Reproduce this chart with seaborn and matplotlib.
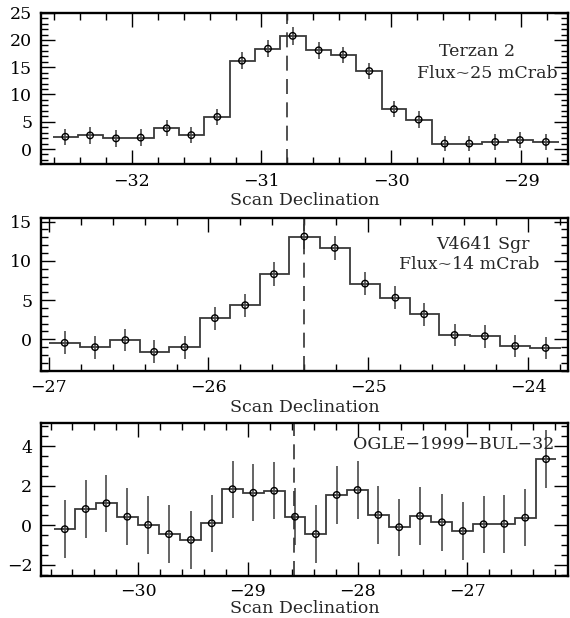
import numpy as np
import matplotlib
matplotlib.use("Agg")
import matplotlib.pyplot as plt
from matplotlib.ticker import MultipleLocator
import seaborn as sns

sns.set_theme(style="ticks")
plt.rcParams['font.family'] = ['DejaVu Serif']
plt.rcParams['axes.unicode_minus'] = True

# Panel 1: Terzan 2
terzan_dec = [-32.51, -32.32, -32.12, -31.93, -31.73, -31.54, -31.34, -31.15, -30.95, -30.76,
              -30.56, -30.37, -30.17, -29.98, -29.79, -29.59, -29.40, -29.20, -29.01, -28.81]
terzan_flux = [2.25, 2.5, 1.95, 2.1, 3.8, 2.55, 5.9, 16.2, 18.4, 20.75,
               18.1, 17.3, 14.3, 7.3, 5.4, 1.0, 1.0, 1.3, 1.65, 1.3]
terzan_err = [1.45, 1.5, 1.5, 1.5, 1.5, 1.45, 1.5, 1.55, 1.55, 1.6,
              1.5, 1.5, 1.5, 1.5, 1.5, 1.45, 1.45, 1.45, 1.5, 1.45]

# Panel 2: V4641 Sgr
v4641_dec = [-26.90, -26.71, -26.52, -26.34, -26.15, -25.96, -25.77, -25.59, -25.40,
             -25.21, -25.02, -24.83, -24.65, -24.46, -24.27, -24.08, -23.89]
v4641_flux = [-0.45, -1.0, -0.1, -1.6, -1.0, 2.7, 4.35, 8.3, 13.1,
              11.65, 7.1, 5.3, 3.2, 0.55, 0.4, -0.85, -1.1]
v4641_err = [1.45, 1.45, 1.45, 1.45, 1.45, 1.45, 1.45, 1.5, 1.55,
             1.5, 1.5, 1.45, 1.45, 1.45, 1.45, 1.45, 1.45]

# Panel 3: OGLE-1999-BUL-32
ogle_dec = [-30.67, -30.48, -30.29, -30.10, -29.91, -29.72, -29.52, -29.33, -29.14, -28.95,
            -28.76, -28.57, -28.38, -28.19, -28.00, -27.81, -27.62, -27.43, -27.23, -27.04,
            -26.85, -26.66, -26.47, -26.28]
ogle_flux = [-0.2, 0.82, 1.11, 0.43, 0.02, -0.45, -0.74, 0.1, 1.82, 1.64,
             1.74, 0.43, -0.45, 1.53, 1.78, 0.52, -0.1, 0.47, 0.15, -0.29,
             0.05, 0.07, 0.38, 3.34]
ogle_err = [1.45] * 24

panels = [
    dict(dec=terzan_dec, flux=terzan_flux, err=terzan_err, src=-30.80,
         xlim=(-32.70, -28.64), ylim=(-2.8, 25), ymaj=5, ymin=1, lpad=2, tpad=6,
         labels=[("Terzan 2", 0.827, 0.741), ("Flux~25 mCrab", 0.847, 0.602)]),
    dict(dec=v4641_dec, flux=v4641_flux, err=v4641_err, src=-25.40,
         xlim=(-27.05, -23.75), ylim=(-4.0, 15.5), ymaj=5, ymin=1, lpad=2, tpad=6,
         labels=[("V4641 Sgr", 0.838, 0.822), ("Flux~14 mCrab", 0.813, 0.695)]),
    dict(dec=ogle_dec, flux=ogle_flux, err=ogle_err, src=-28.58,
         xlim=(-30.89, -26.08), ylim=(-2.55, 5.15), ymaj=2, ymin=0.5, lpad=0, tpad=5,
         labels=[("OGLE\u22121999\u2212BUL\u221232", 0.783, 0.858)]),
]

W, H = 570, 618
fig = plt.figure(figsize=(W / 100, H / 100), dpi=100)
boxes = [(12.7, 164.3), (217.7, 370.7), (423.3, 575.7)]
left_px, right_px = 40.7, 568

for p, (top, bot) in zip(panels, boxes):
    ax = fig.add_axes([left_px / W, 1 - bot / H, (right_px - left_px) / W, (bot - top) / H])
    x = np.array(p['dec'])
    y = np.array(p['flux'])
    mids = (x[1:] + x[:-1]) / 2
    edges = np.concatenate([[x[0] - (mids[0] - x[0])], mids, [x[-1] + (x[-1] - mids[-1])]])
    ax.stairs(y, edges, color='#3a3a3a', lw=1.3, baseline=None)
    ax.errorbar(x, y, yerr=p['err'], fmt='none', ecolor='#4a4a4a', elinewidth=1.2, capsize=0)
    sns.scatterplot(x=x, y=y, ax=ax, marker='o', s=22, facecolor='none',
                    edgecolor='black', linewidth=1.0, zorder=5)
    ax.axvline(p['src'], color='#333333', lw=1.2, dashes=(9, 5))
    ax.set_xlim(*p['xlim'])
    ax.set_ylim(*p['ylim'])
    ax.xaxis.set_major_locator(MultipleLocator(1))
    ax.xaxis.set_minor_locator(MultipleLocator(0.2))
    ax.yaxis.set_major_locator(MultipleLocator(p['ymaj']))
    ax.yaxis.set_minor_locator(MultipleLocator(p['ymin']))
    ax.tick_params(which='both', direction='in', top=True, right=True, width=1.0,
                   colors='black', labelsize=12.5, pad=6)
    ax.tick_params(axis='x', which='both', pad=p['tpad'])
    ax.tick_params(which='major', length=10)
    ax.tick_params(which='minor', length=5)
    for s in ax.spines.values():
        s.set_linewidth(1.7)
        s.set_color('black')
    ax.set_xlabel("Scan Declination", fontsize=12.5, labelpad=p['lpad'])
    ax.set_ylabel("")
    for txt, tx, ty in p['labels']:
        ax.text(tx, ty, txt, transform=ax.transAxes, ha='center', va='center', fontsize=12.5)

fig.savefig("out.png", dpi=100)
